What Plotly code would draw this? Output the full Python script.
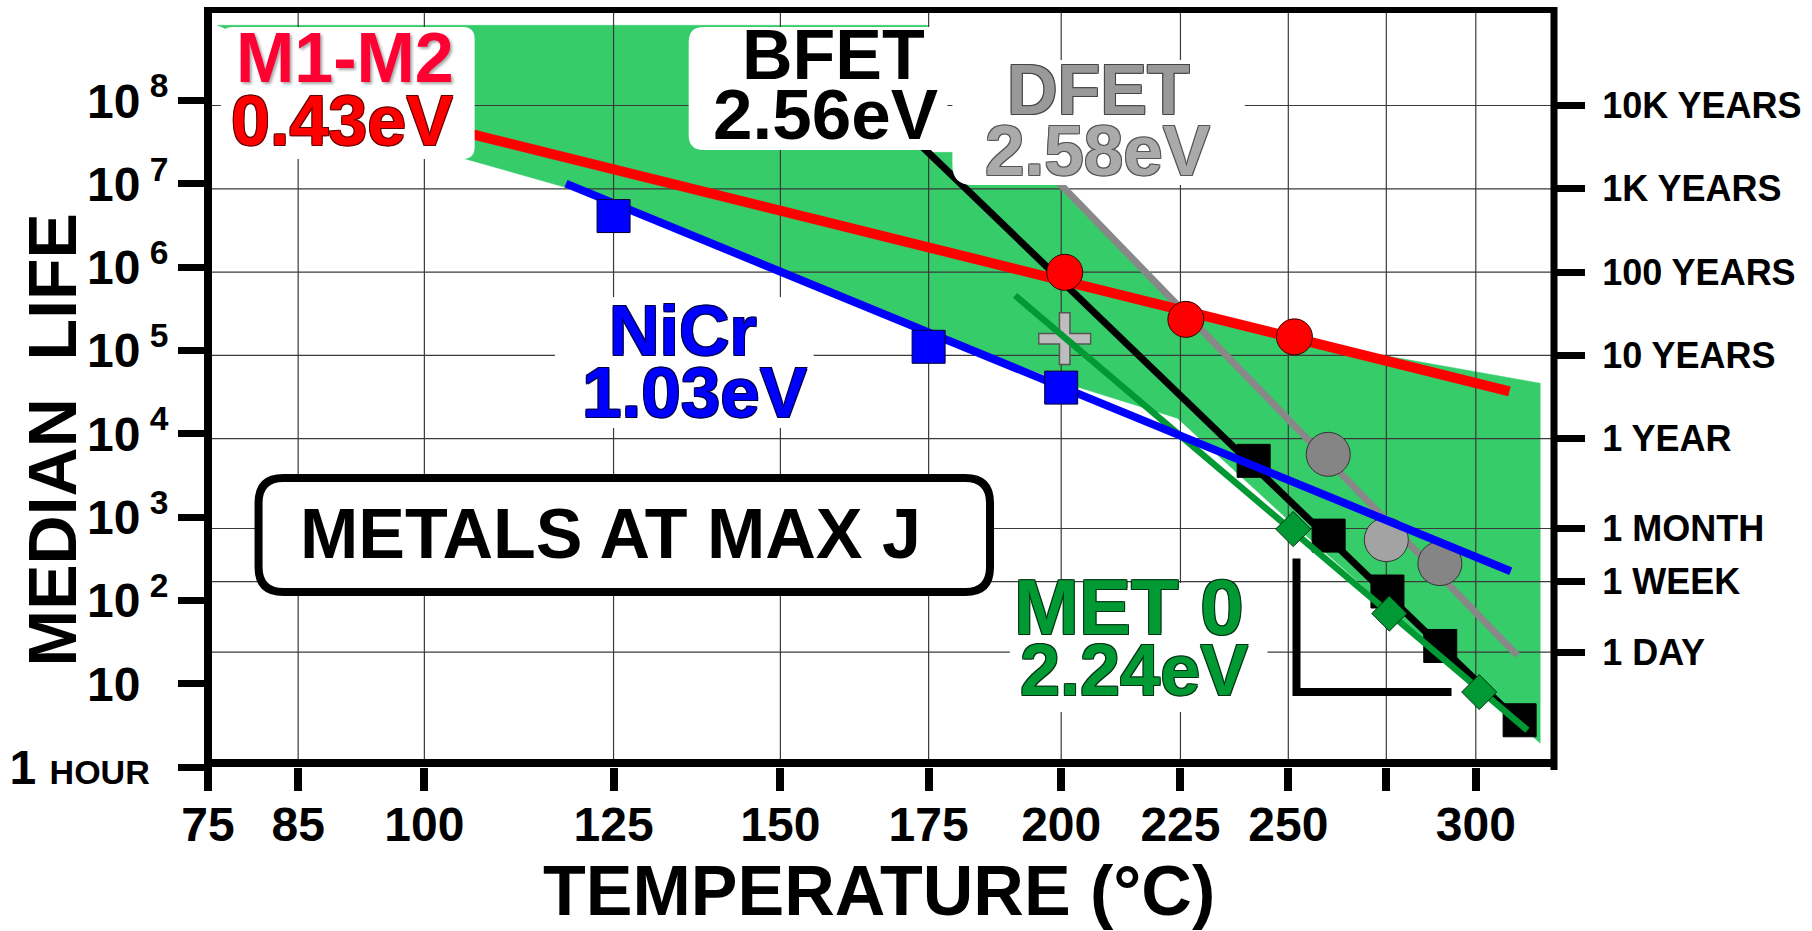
import numpy as np
import plotly.graph_objects as go

FONT = "Liberation Sans, Arial, Helvetica, sans-serif"

# ---------------- axes (temperature in degC, median life in hours) ----------------
temp_ticks = [75, 85, 100, 125, 150, 175, 200, 225, 250, 275, 300]
temp_labels = ["75", "85", "100", "125", "150", "175", "200", "225", "250", "", "300"]
temp_limits = [75, 323.8]

life_ticks = [1, 10, 1e2, 1e3, 1e4, 1e5, 1e6, 1e7, 1e8]
life_labels = [
    "1 <span style='font-size:34px'>HOUR</span><span style='color:rgba(0,0,0,0)'><sup>8</sup></span>",
    "10<span style='color:rgba(0,0,0,0)'><sup> 8</sup></span>",
    "10<sup> 2</sup>", "10<sup> 3</sup>", "10<sup> 4</sup>", "10<sup> 5</sup>",
    "10<sup> 6</sup>", "10<sup> 7</sup>", "10<sup> 8</sup>",
]
life_limits_log = [0, 9.089]

time_ticks = [24, 168, 730, 8760, 87600, 876000, 8.76e6, 8.76e7]
time_labels = ["1 DAY", "1 WEEK", "1 MONTH", "1 YEAR", "10 YEARS",
               "100 YEARS", "1K YEARS", "10K YEARS"]

# ---------------- data ----------------
envelope_T = [75.96, 174.82, 174.82, 188.5, 200.64, 226.09, 253.92, 319.46,
              319.46, 249.55, 224.34, 202.83, 174.65, 125.12, 104.94, 77.26]
envelope_h = [8.04e8, 8.04e8, 2.40e7, 2.40e7, 8.87e6, 2.76e5, 1.29e5, 4.05e4,
              1.93, 968, 1.54e4, 3.72e4, 1.70e5, 6.19e6, 2.03e7, 7.0e8]

m1m2_T = [200.7, 226.2, 251.5]
m1m2_h = [8.7e5, 2.37e5, 1.46e5]
m1m2_fit_T = [104, 310]
m1m2_fit_h = [4.4e7, 3.24e4]

nicr_T = [125, 175, 200]
nicr_h = [4.12e6, 1.11e5, 3.59e4]
nicr_fit_T = [118.4, 310.4]
nicr_fit_h = [1.01e7, 224]

bfet_T = [241.7, 260, 275.3, 289.8, 313.1]
bfet_h = [4740, 600, 128, 28.4, 3.64]
bfet_fit_T = [172.7, 315.4]
bfet_fit_h = [3.34e7, 2.81]

dfet_T = [259.9, 275.0, 289.7]
dfet_h = [5680, 537, 277]
dfet_colors = ["#858585", "#a3a3a3", "#858585"]
dfet_fit_T = [198, 312.4]
dfet_fit_h = [1.29e7, 21.9]

met0_T = [251.2, 275.8, 301.0]
met0_h = [719, 69.5, 7.94]
met0_fit_T = [191, 315.5]
met0_fit_h = [4.6e5, 2.76]

plus_T = [200.7]
plus_h = [1.39e5]

bracket_T = [252, 252, 293]
bracket_h = [318, 7.94, 7.94]


def arr(T):
    """Arrhenius abscissa: -1000/T(K)."""
    return list(-1000.0 / (np.asarray(T, dtype=float) + 273.15))


# ---------------- layout geometry (pixels) ----------------
W, H = 1812, 931
ML, MR, MT, MB = 199, 255, 10, 164
PW, PH = W - ML - MR, H - MT - MB


def px(x):
    return (x - ML) / PW


def py(y):
    return (H - MB - y) / PH


def rrect(x0, y0, x1, y1, r):
    def P(x, y):
        return f"{px(x):.5f},{py(y):.5f}"
    if r <= 0:
        return f"M{P(x0,y0)} L{P(x1,y0)} L{P(x1,y1)} L{P(x0,y1)} Z"
    return (f"M{P(x0+r,y0)} L{P(x1-r,y0)} Q{P(x1,y0)} {P(x1,y0+r)} "
            f"L{P(x1,y1-r)} Q{P(x1,y1)} {P(x1-r,y1)} L{P(x0+r,y1)} "
            f"Q{P(x0,y1)} {P(x0,y1-r)} L{P(x0,y0+r)} Q{P(x0,y0)} {P(x0+r,y0)} Z")


def outline(c, w=1):
    return (f"-{w}px -{w}px 0 {c}, {w}px -{w}px 0 {c}, -{w}px {w}px 0 {c}, "
            f"{w}px {w}px 0 {c}")


fig = go.Figure()

# green envelope
fig.add_trace(go.Scatter(x=arr(envelope_T), y=envelope_h, mode="lines",
                         fill="toself", fillcolor="#36cc6a",
                         line=dict(color="#36cc6a", width=0.5),
                         hoverinfo="skip", showlegend=False))

# grid lines (above the envelope, below the data)
x_lo, x_hi = arr(temp_limits)
gx, gy = [], []
for T in temp_ticks[1:]:
    xv = arr([T])[0]
    gx += [xv, xv, None]
    gy += [10 ** life_limits_log[0], 10 ** life_limits_log[1], None]
for h in time_ticks:
    gx += [x_lo, x_hi, None]
    gy += [h, h, None]
fig.add_trace(go.Scatter(x=gx, y=gy, mode="lines",
                         line=dict(color="#3a3a3a", width=1.2),
                         hoverinfo="skip", showlegend=False))

# BFET
fig.add_trace(go.Scatter(x=arr(bfet_fit_T), y=bfet_fit_h, mode="lines",
                         line=dict(color="black", width=7), showlegend=False))
fig.add_trace(go.Scatter(x=arr(bfet_T), y=bfet_h, mode="markers",
                         marker=dict(symbol="square", size=33, color="black",
                                     line=dict(color="black", width=1)),
                         showlegend=False))

# plus marker
fig.add_trace(go.Scatter(x=arr(plus_T), y=plus_h, mode="markers",
                         marker=dict(symbol="cross-thin", size=38,
                                     line=dict(color="#555555", width=12)),
                         showlegend=False))
fig.add_trace(go.Scatter(x=arr(plus_T), y=plus_h, mode="markers",
                         marker=dict(symbol="cross-thin", size=36,
                                     line=dict(color="#bdbdbd", width=9)),
                         showlegend=False))

# MET 0
fig.add_trace(go.Scatter(x=arr(met0_fit_T), y=met0_fit_h, mode="lines",
                         line=dict(color="#009933", width=6.5), showlegend=False))
fig.add_trace(go.Scatter(x=arr(met0_T), y=met0_h, mode="markers",
                         marker=dict(symbol="diamond", size=27, color="#009933",
                                     line=dict(color="#003311", width=1)),
                         showlegend=False))

# DFET
fig.add_trace(go.Scatter(x=arr(dfet_fit_T), y=dfet_fit_h, mode="lines",
                         line=dict(color="#888888", width=7), showlegend=False))
fig.add_trace(go.Scatter(x=arr(dfet_T), y=dfet_h, mode="markers",
                         marker=dict(symbol="circle", size=44, color=dfet_colors,
                                     line=dict(color="#333333", width=1)),
                         showlegend=False))

# bracket
fig.add_trace(go.Scatter(x=arr(bracket_T), y=bracket_h, mode="lines",
                         line=dict(color="black", width=8), showlegend=False))

# NiCr
fig.add_trace(go.Scatter(x=arr(nicr_fit_T), y=nicr_fit_h, mode="lines",
                         line=dict(color="#0000ff", width=8), showlegend=False))
fig.add_trace(go.Scatter(x=arr(nicr_T), y=nicr_h, mode="markers",
                         marker=dict(symbol="square", size=33, color="#0000ff",
                                     line=dict(color="#000033", width=1)),
                         showlegend=False))

# M1-M2 (on the right-hand time axis, which shares the same scale; drawn on top)
fig.add_trace(go.Scatter(x=arr(m1m2_fit_T), y=m1m2_fit_h, mode="lines", yaxis="y2",
                         line=dict(color="#ff0000", width=10), showlegend=False))
fig.add_trace(go.Scatter(x=arr(m1m2_T), y=m1m2_h, mode="markers", yaxis="y2",
                         marker=dict(symbol="circle", size=36, color="#ff0000",
                                     line=dict(color="#330000", width=1)),
                         showlegend=False))

# ---------------- shapes ----------------
shapes = []
for (x0, y0, x1, y1, r) in [(212, 27, 468, 159, 12), (684, 27, 945, 150, 15),
                            (950, 60, 1245, 185, 20), (549, 297, 810, 428, 0),
                            (1008, 583, 1268, 712, 0)]:
    shapes.append(dict(type="path", xref="paper", yref="paper", layer="above",
                       path=rrect(x0, y0, x1, y1, r), fillcolor="white",
                       line=dict(width=0)))
shapes.append(dict(type="path", xref="paper", yref="paper", layer="above",
                   path=rrect(250, 478, 988, 592, 25), fillcolor="white",
                   line=dict(color="black", width=8)))
shapes += [
    dict(type="line", xref="paper", yref="paper", x0=px(199), x1=px(199),
         y0=py(770), y1=py(7), line=dict(color="black", width=8), layer="above"),
    dict(type="line", xref="paper", yref="paper", x0=px(1557), x1=px(1557),
         y0=py(770), y1=py(7), line=dict(color="black", width=7), layer="above"),
    dict(type="line", xref="paper", yref="paper", x0=px(195), x1=px(1560),
         y0=py(763), y1=py(763), line=dict(color="black", width=8), layer="above"),
    dict(type="line", xref="paper", yref="paper", x0=px(196), x1=px(1560),
         y0=py(10), y1=py(10), line=dict(color="black", width=6), layer="above"),
]


def txt(s, cx, cy, size, color, shadow=None, angle=0):
    f = dict(family=FONT, size=size, color=color, weight="bold")
    if shadow:
        f["shadow"] = shadow
    return dict(text=s, x=px(cx), y=py(cy), xref="paper", yref="paper",
                xanchor="center", yanchor="middle", showarrow=False,
                font=f, textangle=angle)


annotations = [
    txt("M1-M2", 337, 57.5, 70, "#ff0033", "2px 2px 3px rgba(0,0,0,0.35)"),
    txt("0.43eV", 334, 121, 70, "#ff0000", outline("#660000")),
    txt("BFET", 830, 55, 70, "black"),
    txt("2.56eV", 822, 115, 71, "black"),
    txt("DFET", 1097, 90, 70, "#999999", outline("#444444")),
    txt("2.58eV", 1096, 151, 71, "#aaaaaa", outline("#555555")),
    txt("NiCr", 678, 331, 70, "#0000ff", outline("#000044")),
    txt("1.03eV", 690, 392.5, 71, "#0000ff", outline("#000044")),
    txt("METALS AT MAX J", 605, 533.5, 70, "black"),
    txt("MET 0", 1128, 607, 78, "#009933", outline("#003311")),
    txt("2.24eV", 1133.5, 670, 72, "#009933", outline("#003311")),
    txt("TEMPERATURE (°C)", 876, 891, 70, "black"),
    txt("MEDIAN\u00a0\u00a0LIFE", 42, 440, 68, "black", angle=-90),
]

tickfont_big = dict(family=FONT, size=48, color="black", weight="bold")

fig.update_layout(
    width=W, height=H,
    margin=dict(l=ML, r=MR, t=MT, b=MB, pad=0),
    paper_bgcolor="white", plot_bgcolor="white",
    showlegend=False,
    xaxis=dict(range=[x_lo, x_hi], tickmode="array", tickvals=arr(temp_ticks),
               ticktext=temp_labels, ticks="outside", ticklen=23, tickwidth=8,
               tickcolor="black", showgrid=False, zeroline=False, showline=False,
               tickfont=tickfont_big, ticklabelstandoff=-8),
    yaxis=dict(type="log", range=life_limits_log, tickmode="array",
               tickvals=life_ticks, ticktext=life_labels, ticks="outside",
               ticklen=29, tickwidth=7, tickcolor="black", showgrid=False,
               zeroline=False, showline=False, tickfont=tickfont_big),
    yaxis2=dict(type="log", range=life_limits_log, overlaying="y", side="right",
                anchor="x", tickmode="array", tickvals=time_ticks,
                ticktext=time_labels, ticks="outside", ticklen=30, tickwidth=7,
                tickcolor="black", showgrid=False, zeroline=False,
                showline=False, ticklabelstandoff=10,
                tickfont=dict(family=FONT, size=36, color="black", weight="bold")),
    shapes=shapes,
    annotations=annotations,
)

fig.write_html("out.html", config={"displayModeBar": False},
               post_script="document.body.style.margin='0';document.body.style.overflow='hidden';")
